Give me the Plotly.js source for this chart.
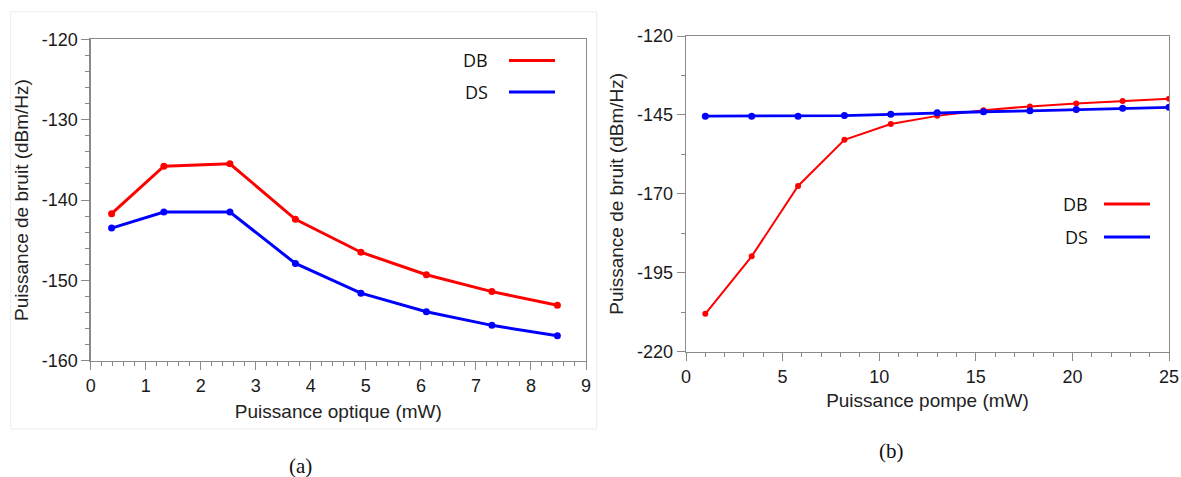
<!DOCTYPE html>
<html>
<head>
<meta charset="utf-8">
<script src="https://cdn.plot.ly/plotly-3.0.1.min.js"></script>
<style>
  html, body { margin: 0; padding: 0; background: #ffffff; }
  #chart { width: 1181px; height: 477px; }
</style>
</head>
<body>
<div id="chart"></div>
<script>
// ---- Data ----
const seriesNames = ["DB", "DS"];

// (a) Puissance optique (mW)
const xOptique = [0.38, 1.33, 2.53, 3.72, 4.91, 6.10, 7.29, 8.48];
const dbOptique = [-141.7, -135.8, -135.5, -142.4, -146.5, -149.3, -151.4, -153.1];
const dsOptique = [-143.5, -141.5, -141.5, -147.9, -151.6, -153.9, -155.6, -156.9];

// (b) Puissance pompe (mW)
const xPompe = [1.0, 3.4, 5.8, 8.2, 10.6, 13.0, 15.4, 17.8, 20.2, 22.6, 25.0];
const dbPompe = [-208.0, -189.8, -167.5, -152.9, -147.9, -145.3, -143.5, -142.3, -141.4, -140.6, -139.9];
const dsPompe = [-145.4, -145.4, -145.4, -145.2, -144.8, -144.3, -144.0, -143.7, -143.3, -142.9, -142.6];

// Tick labels (hyphen-minus as in the reference)
const yTickValsA = [-160, -150, -140, -130, -120];
const yTickTextA = ["-160", "-150", "-140", "-130", "-120"];
const yTickValsB = [-220, -195, -170, -145, -120];
const yTickTextB = ["-220", "-195", "-170", "-145", "-120"];

const xTitleA = "Puissance optique (mW)";
const xTitleB = "Puissance pompe (mW)";
const yTitle = "Puissance de bruit (dBm/Hz)";
const captions = ["(a)", "(b)"];

// ---- Layout helpers (pixel -> paper) ----
const W = 1181, H = 477;
const px = x => x / W;
const py = y => 1 - y / H;

const RED = "#ff0000", BLUE = "#0000ff";
const FONT = "Liberation Sans, Arial, sans-serif";

const traces = [
  { x: xOptique, y: dbOptique, name: seriesNames[0], xaxis: "x", yaxis: "y", mode: "lines+markers",
    line: { color: RED, width: 3 }, marker: { color: RED, size: 7 } },
  { x: xOptique, y: dsOptique, name: seriesNames[1], xaxis: "x", yaxis: "y", mode: "lines+markers",
    line: { color: BLUE, width: 3 }, marker: { color: BLUE, size: 7 } },
  { x: xPompe, y: dbPompe, name: seriesNames[0], xaxis: "x2", yaxis: "y2", mode: "lines+markers",
    line: { color: RED, width: 2 }, marker: { color: RED, size: 6 } },
  { x: xPompe, y: dsPompe, name: seriesNames[1], xaxis: "x2", yaxis: "y2", mode: "lines+markers",
    line: { color: BLUE, width: 2.8 }, marker: { color: BLUE, size: 7 } }
];

const tickFont = { family: FONT, size: 18, color: "#1a1a1a" };
const titleFont = { family: FONT, size: 19, color: "#222" };

function axisBase() {
  return {
    showgrid: false, zeroline: false, showline: true, linecolor: "#8a8a8a", linewidth: 1.3,
    mirror: true, ticks: "outside", ticklen: 8, tickwidth: 1, tickcolor: "#8a8a8a",
    tickfont: tickFont, automargin: false, fixedrange: true
  };
}

const layout = {
  width: W, height: H,
  margin: { l: 0, r: 0, t: 0, b: 0 },
  paper_bgcolor: "#ffffff", plot_bgcolor: "#ffffff",
  showlegend: false,
  xaxis: Object.assign(axisBase(), {
    domain: [px(90.7), px(586)], anchor: "y", range: [0, 9], dtick: 1, tick0: 0,
    minor: { dtick: 0.2, ticks: "outside", ticklen: 4, tickcolor: "#8a8a8a" },
    title: { text: xTitleA, font: titleFont, standoff: 10 }
  }),
  yaxis: Object.assign(axisBase(), {
    domain: [py(360.7), py(39.3)], anchor: "x", range: [-160, -120],
    tickmode: "array", tickvals: yTickValsA, ticktext: yTickTextA,
    minor: { dtick: 2, tick0: -160, ticks: "outside", ticklen: 4, tickcolor: "#8a8a8a" },
    title: { text: yTitle, font: titleFont, standoff: 8 }
  }),
  xaxis2: Object.assign(axisBase(), {
    domain: [px(686), px(1169)], anchor: "y2", range: [0, 25], dtick: 5, tick0: 0,
    minor: { dtick: 1, ticks: "outside", ticklen: 4, tickcolor: "#8a8a8a" },
    title: { text: xTitleB, font: titleFont, standoff: 8 }
  }),
  yaxis2: Object.assign(axisBase(), {
    domain: [py(351.7), py(36)], anchor: "x2", range: [-220, -120],
    tickmode: "array", tickvals: yTickValsB, ticktext: yTickTextB,
    minor: { dtick: 12.5, tick0: -220, ticks: "outside", ticklen: 4, tickcolor: "#8a8a8a" },
    title: { text: yTitle, font: titleFont, standoff: 8 }
  }),
  shapes: [
    // faint frame around panel (a)
    { type: "rect", xref: "paper", yref: "paper", x0: px(10.7), x1: px(596.7), y0: py(429), y1: py(11.7),
      line: { color: "#ececec", width: 1 }, fillcolor: "rgba(0,0,0,0)", layer: "below" },
    // legend lines (a)
    { type: "line", xref: "paper", yref: "paper", x0: px(509), x1: px(555), y0: py(60.5), y1: py(60.5),
      line: { color: RED, width: 3 } },
    { type: "line", xref: "paper", yref: "paper", x0: px(509), x1: px(555), y0: py(92), y1: py(92),
      line: { color: BLUE, width: 3 } },
    // legend lines (b)
    { type: "line", xref: "paper", yref: "paper", x0: px(1104), x1: px(1150), y0: py(204), y1: py(204),
      line: { color: RED, width: 3 } },
    { type: "line", xref: "paper", yref: "paper", x0: px(1104), x1: px(1150), y0: py(237), y1: py(237),
      line: { color: BLUE, width: 3 } }
  ],
  annotations: [
    { text: seriesNames[0], xref: "paper", yref: "paper", x: px(490), y: py(60.5), xanchor: "right", yanchor: "middle",
      showarrow: false, font: { family: "Open Sans, Noto Sans, sans-serif", size: 18, color: "#111" } },
    { text: seriesNames[1], xref: "paper", yref: "paper", x: px(490), y: py(92), xanchor: "right", yanchor: "middle",
      showarrow: false, font: { family: "Open Sans, Noto Sans, sans-serif", size: 18, color: "#111" } },
    { text: seriesNames[0], xref: "paper", yref: "paper", x: px(1090), y: py(204), xanchor: "right", yanchor: "middle",
      showarrow: false, font: { family: "Open Sans, Noto Sans, sans-serif", size: 18, color: "#111" } },
    { text: seriesNames[1], xref: "paper", yref: "paper", x: px(1090), y: py(237), xanchor: "right", yanchor: "middle",
      showarrow: false, font: { family: "Open Sans, Noto Sans, sans-serif", size: 18, color: "#111" } },
    { text: captions[0], xref: "paper", yref: "paper", x: px(300), y: py(466), xanchor: "center", yanchor: "middle",
      showarrow: false, font: { family: "Liberation Serif, DejaVu Serif, serif", size: 21, color: "#111" } },
    { text: captions[1], xref: "paper", yref: "paper", x: px(891), y: py(451), xanchor: "center", yanchor: "middle",
      showarrow: false, font: { family: "Liberation Serif, DejaVu Serif, serif", size: 21, color: "#111" } }
  ]
};

Plotly.newPlot("chart", traces, layout, { staticPlot: true, displayModeBar: false });
</script>
</body>
</html>
